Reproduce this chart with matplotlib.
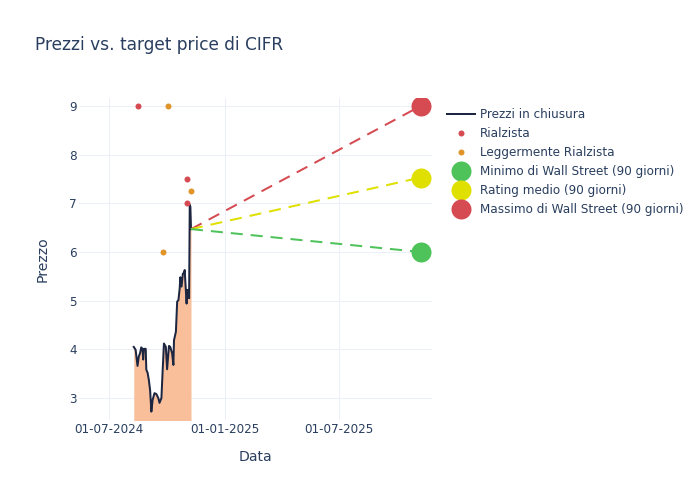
import matplotlib
matplotlib.use("Agg")
import matplotlib.pyplot as plt
import matplotlib.dates as mdates
from matplotlib.lines import Line2D
import pandas as pd

# ---- data ----
price_dates = ["2024-08-09", "2024-08-12", "2024-08-15", "2024-08-17", "2024-08-19",
               "2024-08-21", "2024-08-23", "2024-08-24", "2024-08-25", "2024-08-28",
               "2024-08-29", "2024-08-31", "2024-09-02", "2024-09-04", "2024-09-06",
               "2024-09-08", "2024-09-11", "2024-09-14", "2024-09-17", "2024-09-19",
               "2024-09-22", "2024-09-24", "2024-09-26", "2024-09-29", "2024-10-01",
               "2024-10-04", "2024-10-06", "2024-10-09", "2024-10-11", "2024-10-12",
               "2024-10-15", "2024-10-17", "2024-10-19", "2024-10-21", "2024-10-22",
               "2024-10-24", "2024-10-26", "2024-10-28", "2024-10-29", "2024-10-30",
               "2024-11-01", "2024-11-02", "2024-11-04", "2024-11-05", "2024-11-06",
               "2024-11-07", "2024-11-08"]
price_values = [4.05, 3.99, 3.66, 3.85, 3.92,
                4.04, 4.00, 3.79, 4.01, 4.01,
                3.58, 3.52, 3.37, 3.16, 2.72,
                2.96, 3.10, 3.08, 3.00, 2.90,
                3.00, 3.58, 4.12, 4.05, 3.59,
                4.07, 4.05, 3.92, 3.68, 4.19,
                4.36, 4.98, 5.01, 5.25, 5.48,
                5.29, 5.55, 5.58, 5.63, 5.39,
                4.94, 5.22, 5.22, 5.05, 6.97,
                6.93, 6.47]

rialzista_dates = ["2024-08-15", "2024-11-01", "2024-11-01"]
rialzista_values = [9.0, 7.5, 7.0]
legg_dates = ["2024-09-25", "2024-10-03", "2024-11-08"]
legg_values = [6.0, 9.0, 7.25]

target_date = "2025-11-08"
target_low = 6.0
target_avg = 7.53
target_high = 9.0

x_ticks = ["2024-07-01", "2025-01-01", "2025-07-01"]
y_ticks = [3, 4, 5, 6, 7, 8, 9]

# ---- style ----
TXT = "#2a3f5f"
GRID = "#ebf0f8"
C_LINE = "#1c2640"
C_FILL = "#f9bf9b"
C_RED = "#d64a52"
C_ORANGE = "#e0952a"
C_GREEN = "#4dc35a"
C_YELLOW = "#dfe000"

px = 72 / 100.0  # points per pixel at dpi 100

fig = plt.figure(figsize=(7, 5), dpi=100)
ax = fig.add_axes([79 / 700, 1 - 420 / 500, 353 / 700, 322 / 500])

pd_dates = pd.to_datetime(price_dates)
ax.fill_between(pd_dates, price_values, 0, color=C_FILL, linewidth=0, zorder=2)
ax.plot(pd_dates, price_values, color=C_LINE, linewidth=2 * px, zorder=3)

last_date = pd_dates[-1]
last_val = price_values[-1]
td = pd.to_datetime(target_date)
for val, col in [(target_high, C_RED), (target_avg, C_YELLOW), (target_low, C_GREEN)]:
    ax.plot([last_date, td], [last_val, val], color=col, linewidth=2 * px,
            dashes=(6, 4), zorder=3)

ax.scatter(pd.to_datetime(rialzista_dates), rialzista_values, s=(6 * px) ** 2,
           color=C_RED, zorder=4, linewidths=0)
ax.scatter(pd.to_datetime(legg_dates), legg_values, s=(6 * px) ** 2,
           color=C_ORANGE, zorder=4, linewidths=0)
for val, col in [(target_low, C_GREEN), (target_avg, C_YELLOW), (target_high, C_RED)]:
    ax.scatter([td], [val], s=(20 * px) ** 2, color=col, zorder=5, linewidths=0)

ax.set_xlim(pd.Timestamp("2024-05-14"), pd.Timestamp("2025-11-26"))
ax.set_ylim(2.548, 9.164)
ax.set_xticks(pd.to_datetime(x_ticks))
ax.xaxis.set_major_formatter(mdates.DateFormatter("%d-%m-%Y"))
ax.set_yticks(y_ticks)

for s in ax.spines.values():
    s.set_visible(False)
ax.grid(True, color=GRID, linewidth=1 * px, zorder=0)
ax.set_axisbelow(True)
ax.tick_params(axis="both", length=0, labelsize=12 * px, labelcolor=TXT)
ax.tick_params(axis="x", pad=2.5)
ax.tick_params(axis="y", pad=1.8)

ax.set_xlabel("Data", fontsize=14 * px, color=TXT, labelpad=9.5)
ax.set_ylabel("Prezzo", fontsize=14 * px, color=TXT, labelpad=13.5)

fig.text(35 / 700, 1 - 45 / 500, "Prezzi vs. target price di CIFR", fontsize=17 * px,
         color=TXT, va="center", ha="left")

handles = [
    Line2D([], [], color=C_LINE, linewidth=2 * px),
    Line2D([], [], linestyle="none", marker="o", markersize=6 * px, color=C_RED, markeredgewidth=0),
    Line2D([], [], linestyle="none", marker="o", markersize=6 * px, color=C_ORANGE, markeredgewidth=0),
    Line2D([], [], linestyle="none", marker="o", markersize=20 * px, color=C_GREEN, markeredgewidth=0),
    Line2D([], [], linestyle="none", marker="o", markersize=20 * px, color=C_YELLOW, markeredgewidth=0),
    Line2D([], [], linestyle="none", marker="o", markersize=20 * px, color=C_RED, markeredgewidth=0),
]
labels = ["Prezzi in chiusura", "Rialzista", "Leggermente Rialzista",
          "Minimo di Wall Street (90 giorni)", "Rating medio (90 giorni)",
          "Massimo di Wall Street (90 giorni)"]
leg = fig.legend(handles, labels, loc="upper left", bbox_to_anchor=(447 / 700, 1 - 108 / 500),
                 frameon=False, fontsize=12 * px, labelspacing=0.50, handlelength=2.3,
                 handletextpad=0.45, borderpad=0, borderaxespad=0)
for t in leg.get_texts():
    t.set_color(TXT)

fig.savefig("out.png", dpi=100)
